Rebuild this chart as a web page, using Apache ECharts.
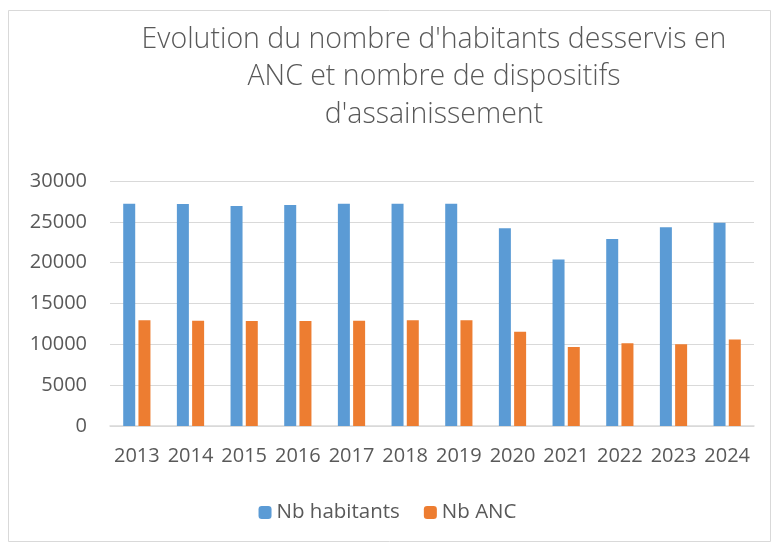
<!DOCTYPE html>
<html>
<head>
<meta charset="utf-8">
<script src="https://cdn.jsdelivr.net/npm/echarts@6/dist/echarts.min.js"></script>
<style>html,body{margin:0;padding:0;background:#fff}#c{width:775px;height:542px}</style>
</head>
<body>
<div id="c"></div>
<script>
var categories = ['2013','2014','2015','2016','2017','2018','2019','2020','2021','2022','2023','2024'];
var habitants = [27200, 27180, 26950, 27060, 27200, 27200, 27200, 24200, 20400, 22900, 24330, 24900];
var anc = [12950, 12900, 12850, 12870, 12900, 12950, 12950, 11550, 9670, 10120, 10000, 10600];
var yTicks = [0, 5000, 10000, 15000, 20000, 25000, 30000];

var chart = echarts.init(document.getElementById('c'));
var txt = '#595959';
chart.setOption({
  animation: false,
  backgroundColor: '#fff',
  title: {
    text: "Evolution du nombre d'habitants desservis en\nANC et nombre de dispositifs\nd'assainissement",
    left: 429, top: 16, textAlign: 'center',
    textStyle: {fontFamily: 'Open Sans', fontWeight: 300, fontSize: 28.5, color: txt, lineHeight: 37.5}
  },
  graphic: [{type: 'rect', shape: {x: 8.5, y: 10.5, width: 762, height: 531}, style: {fill: 'none', stroke: '#D9D9D9', lineWidth: 1}, silent: true, z: -1}],
  legend: {
    data: ['Nb habitants', 'Nb ANC'],
    left: 'center', top: 497, itemWidth: 13, itemHeight: 13, itemGap: 24,
    textStyle: {fontFamily: 'Open Sans', fontSize: 20.5, color: txt}
  },
  grid: {left: 110, right: 21, top: 181, bottom: 116},
  xAxis: {
    type: 'category', data: categories,
    axisLine: {lineStyle: {color: '#D9D9D9', width: 1.5}},
    axisTick: {show: false},
    axisLabel: {fontFamily: 'Open Sans', fontSize: 20, color: txt, margin: 20, interval: 0}
  },
  yAxis: {
    type: 'value', min: yTicks[0], max: yTicks[yTicks.length - 1], interval: 5000,
    axisLine: {show: false}, axisTick: {show: false},
    splitLine: {lineStyle: {color: '#D9D9D9', width: 1}},
    axisLabel: {fontFamily: 'Open Sans', fontSize: 20, color: txt, margin: 23, formatter: function (v) { return String(v); }}
  },
  series: [
    {name: 'Nb habitants', type: 'bar', data: habitants, barWidth: 12, barGap: '27%', itemStyle: {color: '#5B9BD5'}},
    {name: 'Nb ANC', type: 'bar', data: anc, barWidth: 12, barGap: '27%', itemStyle: {color: '#ED7D31'}}
  ]
});
</script>
</body>
</html>
